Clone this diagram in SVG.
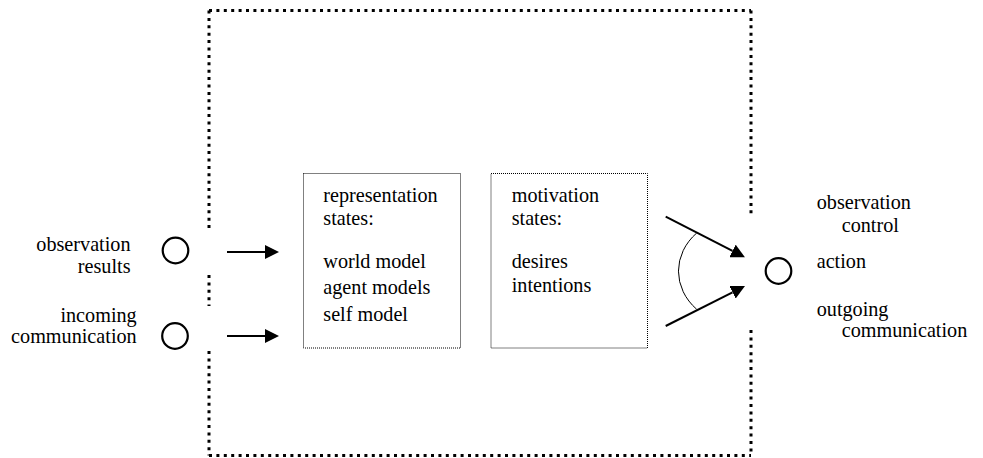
<svg xmlns="http://www.w3.org/2000/svg" width="983" height="458" viewBox="0 0 983 458">
<style>
.t{font-family:"Liberation Serif","Times New Roman",serif;font-size:20.2px;fill:#000}
.e{text-anchor:end}
.outer{fill:none;stroke:#000;stroke-width:3;stroke-dasharray:3 4.4}
.box{fill:none;stroke:#000;stroke-width:1;stroke-dasharray:1 1}
.port{fill:#fff;stroke:#000;stroke-width:2.2}
.arr{fill:none;stroke:#000;stroke-width:2}
.arc{fill:none;stroke:#000;stroke-width:1}
</style>
<defs>
<marker id="ah" markerUnits="userSpaceOnUse" markerWidth="14" markerHeight="14" viewBox="0 0 14 14" refX="0" refY="7" orient="auto">
<path d="M0,0 L14,7 L0,14 z" fill="#000"/>
</marker>
</defs>
<rect width="983" height="458" fill="#fff"/>
<g id="agent-boundary">
<path class="outer" d="M209,10.5 H751 M751,10.5 V217 M751,330 V455.5 M209,455.5 H751 M209,10.5 V230 M209,275 V306 M209,351 V455.5"/>
</g>
<g id="input-observation">
<circle class="port" cx="175.5" cy="250.5" r="12.8"/>
<text class="t e" x="130.5" y="251">observation</text>
<text class="t e" x="130.5" y="273.3">results</text>
</g>
<g id="input-communication">
<circle class="port" cx="175" cy="336" r="12.8"/>
<text class="t e" x="136.7" y="321.7">incoming</text>
<text class="t e" x="136.7" y="343">communication</text>
</g>
<g id="representation-states">
<rect class="box" x="303.5" y="173.5" width="157" height="174.5"/>
<text class="t" x="323.3" y="201.5">representation</text>
<text class="t" x="323.3" y="225">states:</text>
<text class="t" x="323.3" y="268.3">world model</text>
<text class="t" x="323.3" y="294">agent models</text>
<text class="t" x="323.3" y="321">self model</text>
</g>
<g id="motivation-states">
<rect class="box" x="491" y="173.5" width="156.5" height="174.5"/>
<text class="t" x="511.7" y="201.5">motivation</text>
<text class="t" x="511.7" y="225">states:</text>
<text class="t" x="511.7" y="268.3">desires</text>
<text class="t" x="511.7" y="292">intentions</text>
</g>
<g id="output">
<circle class="port" cx="778.5" cy="271" r="12.8"/>
<text class="t" x="816.7" y="208.5">observation</text>
<text class="t" x="841.7" y="231.5">control</text>
<text class="t" x="816.7" y="268">action</text>
<text class="t" x="816.7" y="315.5">outgoing</text>
<text class="t" x="841.7" y="337">communication</text>
</g>
<g id="connectors">
<line class="arr" x1="227" y1="252" x2="265" y2="252" marker-end="url(#ah)"/>
<line class="arr" x1="227" y1="336" x2="265" y2="336" marker-end="url(#ah)"/>
<line class="arr" x1="665.7" y1="216.7" x2="732.5" y2="250.9" marker-end="url(#ah)"/>
<line class="arr" x1="665.7" y1="326" x2="732.5" y2="292.3" marker-end="url(#ah)"/>
<path class="arc" d="M696.7,233 A66.7,55.5 0 0 0 696.7,309.3"/>
</g>
</svg>
